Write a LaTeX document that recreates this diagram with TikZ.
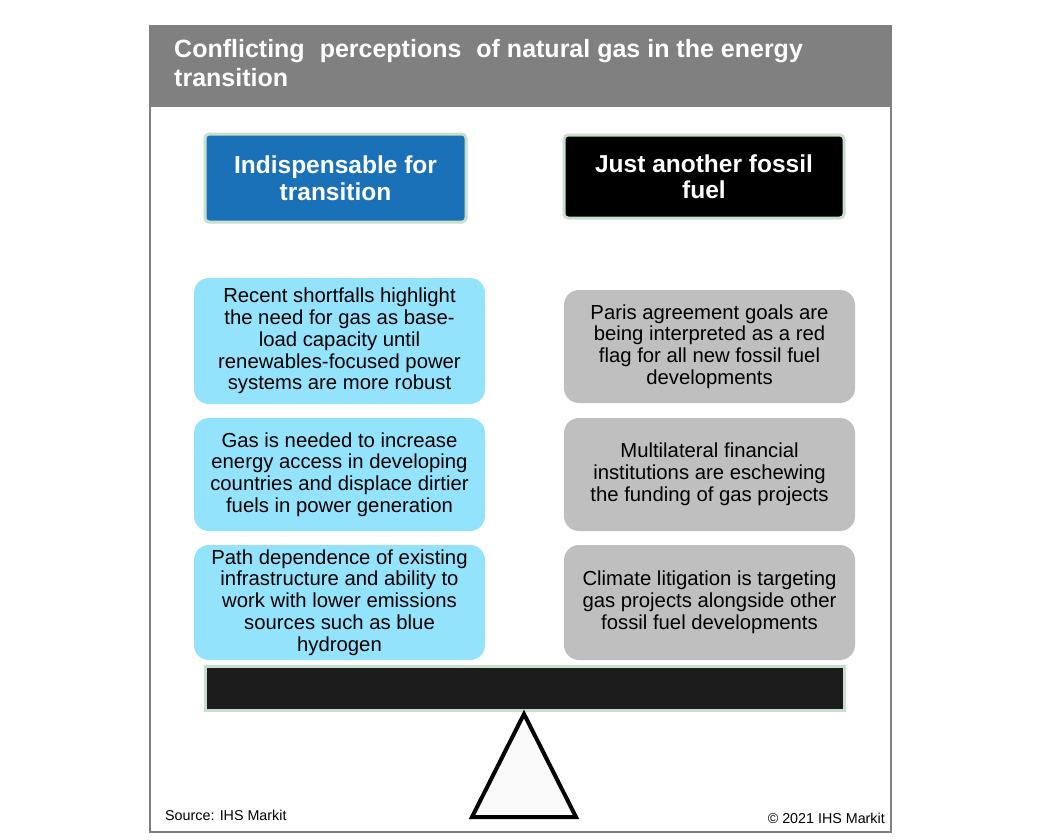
\documentclass[tikz,border=0pt]{standalone}
\usepackage{fontspec}
\setmainfont{Liberation Sans}
\definecolor{hdrgray}{HTML}{808080}
\definecolor{framegray}{HTML}{7F7F7F}
\definecolor{hblue}{HTML}{1A71B8}
\definecolor{lgreen}{HTML}{C8DFCE}
\definecolor{cyanbox}{HTML}{93E3FC}
\definecolor{graybox}{HTML}{BFBFBF}
\definecolor{beam}{HTML}{1C1C1C}
\definecolor{tri}{HTML}{FAFAFA}
\tikzset{
  hdrbox/.style={draw=lgreen, line width=3pt, rounded corners=4pt, text=white, align=center,
    font=\fontsize{24.5}{26.5}\selectfont\bfseries, inner sep=0pt},
  pbox/.style={rounded corners=15pt, align=center, text=black, inner sep=0pt,
    minimum width=291pt, font=\fontsize{20.3}{21.8}\selectfont},
  lbox/.style={pbox, fill=cyanbox},
  rbox/.style={pbox, fill=graybox},
}
\begin{document}
\begin{tikzpicture}[x=1pt,y=-1pt]
\useasboundingbox (0,0) rectangle (1049,839);
\fill[white] (0,0) rectangle (1049,839);
% frame and header
\fill[hdrgray] (150,26) rectangle (891,107);
\draw[framegray, line width=2pt] (150,26) rectangle (891,832);
\node[anchor=north west, text=white, align=left, inner sep=0pt,
  font=\fontsize{25}{29}\selectfont\bfseries] (title) at (174,39.5)
  {Conflicting\hspace{0.6em}perceptions\hspace{0.6em}of natural gas in the energy\\transition};
% column headers
\node[hdrbox, fill=hblue, minimum width=261pt, minimum height=88pt] (lh) at (335.5,178)
  {Indispensable for\\transition};
\node[hdrbox, fill=black, minimum width=280pt, minimum height=83pt] (rh) at (704,176.5)
  {Just another fossil\\fuel};
% left boxes
\node[lbox, minimum height=126pt] (l1) at (339.5,341)
  {Recent shortfalls highlight\\the need for gas as base-\\load capacity until\\renewables-focused power\\systems are more robust};
\node[lbox, minimum height=113pt] (l2) at (339.5,474.5)
  {Gas is needed to increase\\energy access in developing\\countries and displace dirtier\\fuels in power generation};
\node[lbox, minimum height=115pt] (l3) at (339.5,602.5)
  {Path dependence of existing\\infrastructure and ability to\\work with lower emissions\\sources such as blue\\hydrogen};
% right boxes
\node[rbox, minimum height=113pt] (r1) at (709.5,346.5)
  {Paris agreement goals are\\being interpreted as a red\\flag for all new fossil fuel\\developments};
\node[rbox, minimum height=113pt] (r2) at (709.5,474.5)
  {Multilateral financial\\institutions are eschewing\\the funding of gas projects};
\node[rbox, minimum height=115pt] (r3) at (709.5,602.5)
  {Climate litigation is targeting\\gas projects alongside other\\fossil fuel developments};
% beam
\node[draw=lgreen, line width=3pt, fill=beam, minimum width=639pt, minimum height=44pt, inner sep=0pt] (beam) at (524.5,688) {};
% fulcrum
\coordinate (apex) at (524,714);
\coordinate (bl) at (472,817);
\coordinate (br) at (576,817);
\draw[black, line width=4pt, fill=tri, line join=miter] (apex) -- (br) -- (bl) -- cycle;
% footer
\node[anchor=base west, inner sep=0pt, font=\fontsize{14.3}{16}\selectfont] (src) at (165,820) {Source: IHS Markit};
\node[anchor=base east, inner sep=0pt, font=\fontsize{14.3}{16}\selectfont] (copy) at (885,823) {© 2021 IHS Markit};
\end{tikzpicture}
\end{document}
